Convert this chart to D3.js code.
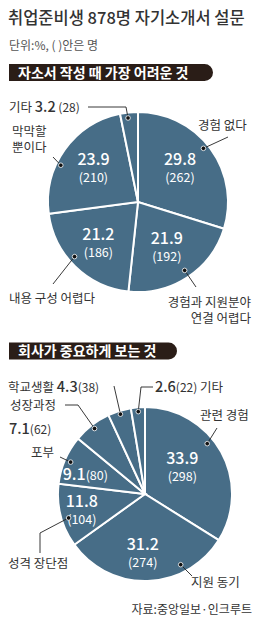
<!DOCTYPE html>
<html>
<head>
<meta charset="utf-8">
<script src="https://cdn.jsdelivr.net/npm/d3@7"></script>
<style>
    body { margin: 0; background: #fff; }
    svg { display: block; font-family: "Noto Sans CJK KR", "Noto Sans", sans-serif; }
</style>
</head>
<body>
<div id="chart"></div>
<script>
// survey 1 : 자소서 작성 때 가장 어려운 것
const hardCats = ["경험 없다", "경험과 지원분야\n연결 어렵다", "내용 구성 어렵다", "막막할\n뿐이다", "기타"];
const hardPct = [29.8, 21.9, 21.2, 23.9, 3.2];
const hardCount = [262, 192, 186, 210, 28];

// survey 2 : 회사가 중요하게 보는 것
const focusCats = ["관련 경험", "지원 동기", "성격 장단점", "포부", "성장과정", "학교생활", "기타"];
const focusPct = [33.9, 31.2, 11.8, 9.1, 7.1, 4.3, 2.6];
const focusCount = [298, 274, 104, 80, 62, 38, 22];

const titleText = "취업준비생 878명 자기소개서 설문";
const unitText = "단위:%, ( )안은 명";
const banner1Text = "자소서 작성 때 가장 어려운 것";
const banner2Text = "회사가 중요하게 보는 것";
const sourceText = "자료:중앙일보·인크루트";

const W = 255, H = 617;
const PIE = "#476d87", DARK = "#2a1d17", INK = "#333";

const svg = d3.select("#chart").append("svg")
    .attr("width", W)
    .attr("height", H);

// header
svg.append("text")
    .attr("x", 8).attr("y", 24)
    .attr("font-size", 16.5).attr("font-weight", 500)
    .attr("fill", INK)
    .text(titleText);

svg.append("text")
    .attr("x", 9).attr("y", 50)
    .attr("font-size", 12).attr("fill", "#555")
    .text(unitText);

function banner(x, y, w, h, label) {
    let r = h / 2;
    svg.append("path")
        .attr("d", `M${x},${y} H${x + w - r} A${r},${r} 0 0 1 ${x + w - r},${y + h} H${x} Z`)
        .attr("fill", DARK);
    svg.append("text")
        .attr("x", x + 9).attr("y", y + h - 3.5)
        .attr("font-size", 14).attr("font-weight", 700)
        .attr("fill", "#fff")
        .text(label);
}

banner(9, 64, 204, 17, banner1Text);
banner(9, 342.5, 168, 17, banner2Text);

svg.append("text")
    .attr("x", 252).attr("y", 614)
    .attr("text-anchor", "end")
    .attr("font-size", 12).attr("fill", INK)
    .text(sourceText);

const deg = Math.PI / 180;

function drawPie(o) {
    let g = svg.append("g");
    let pie = d3.pie().sort(null).value(d => d.pct);
    let arcs = pie(o.cats.map((c, i) => ({cat: c, pct: o.pct[i], count: o.count[i]})));
    let arc = d3.arc().innerRadius(0).outerRadius(o.r);

    let pt = (a, rr) => [o.cx + rr * Math.sin(a), o.cy - rr * Math.cos(a)];
    let mid = d => (d.startAngle + d.endAngle) / 2;

    g.selectAll("path.slice")
        .data(arcs)
        .join("path")
        .attr("class", "slice")
        .attr("transform", `translate(${o.cx},${o.cy})`)
        .attr("d", arc)
        .attr("fill", PIE)
        .attr("stroke", "#fff")
        .attr("stroke-width", 2);

    arcs.forEach((d, i) => {
        let L = o.layout[i];

        // value inside the slice
        if (L.inner) {
            let p = pt(mid(d) + L.inner.dA * deg, L.inner.rf * o.r);
            if (L.inner.mode === "stack") {
                g.append("text")
                    .attr("x", p[0]).attr("y", p[1] - 3)
                    .attr("text-anchor", "middle")
                    .attr("font-size", 16).attr("font-weight", 500)
                    .attr("fill", "#fff")
                    .text(d.data.pct.toFixed(1));
                g.append("text")
                    .attr("x", p[0]).attr("y", p[1] + 14)
                    .attr("text-anchor", "middle")
                    .attr("font-size", 12.5)
                    .attr("fill", "#fff")
                    .text(`(${d.data.count})`);
            } else {
                let t = g.append("text")
                    .attr("x", p[0]).attr("y", p[1] + 5)
                    .attr("text-anchor", "middle")
                    .attr("fill", "#fff");
                t.append("tspan").attr("font-size", 16).attr("font-weight", 500).text(d.data.pct.toFixed(1));
                t.append("tspan").attr("font-size", 12.5).text(`(${d.data.count})`);
            }
        }

        // leader line + dot
        let dp = pt(mid(d) + L.dot.dA * deg, L.dot.rf * o.r);
        g.append("polyline")
            .attr("points", [dp].concat(L.path).map(q => q.join(",")).join(" "))
            .attr("fill", "none")
            .attr("stroke", "#222")
            .attr("stroke-width", 0.9);
        g.append("circle")
            .attr("cx", dp[0]).attr("cy", dp[1]).attr("r", 2.3)
            .attr("fill", "#111")
            .attr("stroke", "#fff").attr("stroke-width", 0.8);

        // outside label
        let lines = d.data.cat.split("\n");
        let val = (t) => {
            t.append("tspan").attr("font-size", 14.5).attr("font-weight", 500).text(d.data.pct.toFixed(1));
            t.append("tspan").attr("font-size", 12).text((L.gap ? " " : "") + `(${d.data.count})`);
        };
        let tx = L.text;
        if (tx.mode === "name") {
            lines.forEach((ln, k) => {
                g.append("text")
                    .attr("x", tx.x).attr("y", tx.y + k * 16)
                    .attr("text-anchor", tx.anchor || "start")
                    .attr("font-size", 12.5).attr("fill", INK)
                    .text(ln);
            });
        } else if (tx.mode === "nameVal") {
            let t = g.append("text").attr("x", tx.x).attr("y", tx.y).attr("fill", INK);
            t.append("tspan").attr("font-size", 12.5).text(d.data.cat + " ");
            val(t);
        } else if (tx.mode === "valName") {
            let t = g.append("text").attr("x", tx.x).attr("y", tx.y).attr("fill", INK);
            val(t);
            t.append("tspan").attr("font-size", 12.5).text(" " + d.data.cat);
        } else if (tx.mode === "nameOverVal") {
            g.append("text")
                .attr("x", tx.x).attr("y", tx.y)
                .attr("font-size", 12.5).attr("fill", INK)
                .text(d.data.cat);
            let t = g.append("text").attr("x", tx.x - 1).attr("y", tx.y + 24).attr("fill", INK);
            val(t);
        }
    });
}

drawPie({
    cx: 138, cy: 202, r: 90,
    cats: hardCats, pct: hardPct, count: hardCount,
    layout: [
        {inner: {dA: -2.6, rf: 0.6, mode: "stack"}, dot: {dA: -3, rf: 0.94},
         path: [[228, 137]], text: {mode: "name", x: 198, y: 130}},
        {inner: {dA: 0.5, rf: 0.59, mode: "stack"}, dot: {dA: -1, rf: 0.92},
         path: [[196, 287]], text: {mode: "name", x: 251, y: 307, anchor: "end"}},
        {inner: {dA: 0, rf: 0.63, mode: "stack"}, dot: {dA: 5, rf: 0.93},
         path: [[53, 284]], text: {mode: "name", x: 9, y: 303}},
        {inner: {dA: 1.6, rf: 0.62, mode: "stack"}, dot: {dA: -10, rf: 0.95},
         path: [[53, 157]], text: {mode: "name", x: 12, y: 136}},
        {inner: null, dot: {dA: -1, rf: 0.94}, gap: true,
         path: [[126, 107], [88, 107]], text: {mode: "nameVal", x: 9, y: 112}}
    ]
});

drawPie({
    cx: 145, cy: 494, r: 87,
    cats: focusCats, pct: focusPct, count: focusCount,
    layout: [
        {inner: {dA: -7, rf: 0.53, mode: "stack"}, dot: {dA: -10, rf: 0.92},
         path: [[217, 428]], text: {mode: "name", x: 200, y: 420}},
        {inner: {dA: 4, rf: 0.68, mode: "stack"}, dot: {dA: -25, rf: 0.91},
         path: [[192, 576]], text: {mode: "name", x: 191, y: 587}},
        {inner: {dA: 0, rf: 0.75, mode: "stack"}, dot: {dA: -3, rf: 0.92},
         path: [[40, 533], [40, 553]], text: {mode: "name", x: 8, y: 568}},
        {inner: {dA: -5.6, rf: 0.72, mode: "inline"}, dot: {dA: 0, rf: 0.93},
         path: [[60, 457]], text: {mode: "name", x: 31, y: 457}},
        {inner: null, dot: {dA: 0, rf: 0.95},
         path: [[78, 405], [65, 405]], text: {mode: "nameOverVal", x: 10, y: 410}},
        {inner: null, dot: {dA: 0, rf: 0.96},
         path: [[114, 386]], text: {mode: "nameVal", x: 8, y: 392}},
        {inner: null, dot: {dA: 0, rf: 0.95},
         path: [[141, 387], [153, 387]], text: {mode: "valName", x: 155, y: 392}}
    ]
});
</script>
</body>
</html>
